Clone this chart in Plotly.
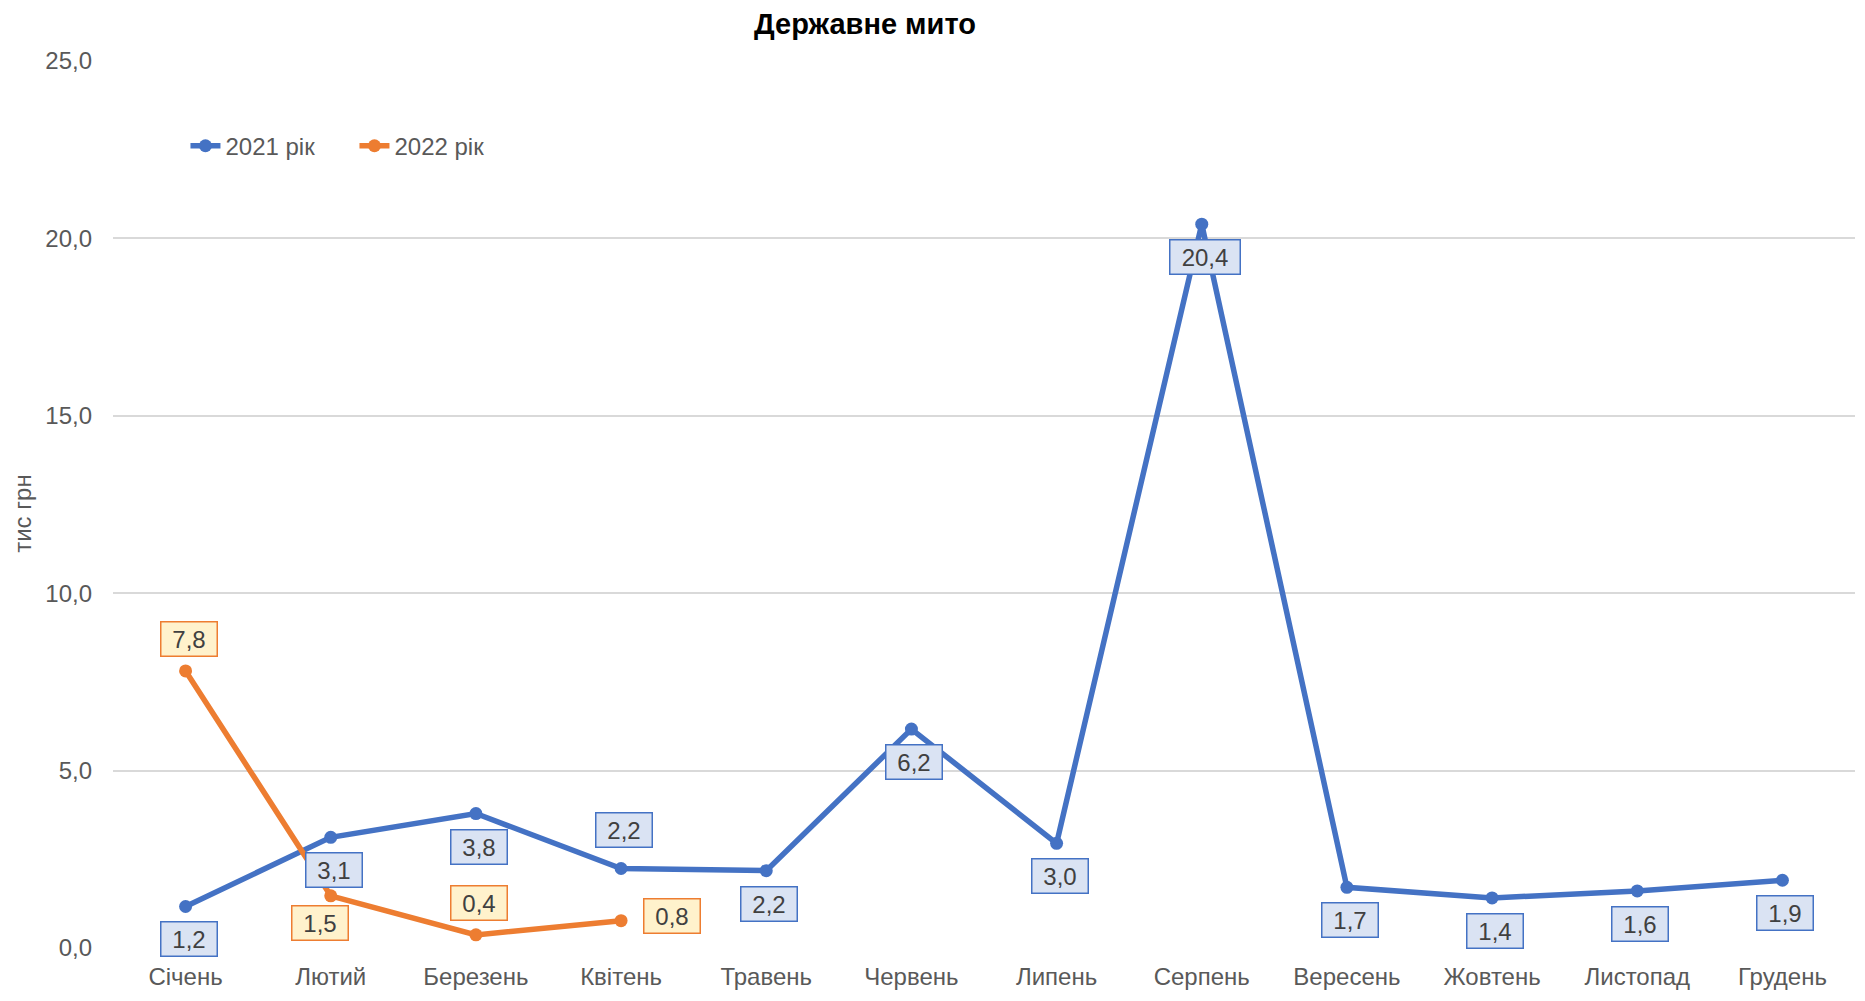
import plotly.graph_objects as go

months = ["Січень", "Лютий", "Березень", "Квітень", "Травень", "Червень",
          "Липень", "Серпень", "Вересень", "Жовтень", "Листопад", "Грудень"]
vals_2021 = [1.17, 3.12, 3.79, 2.24, 2.18, 6.17, 2.95, 20.4, 1.71, 1.41, 1.61, 1.91]
vals_2022 = [7.81, 1.47, 0.37, 0.77]
name_2021 = "2021 рік"
name_2022 = "2022 рік"
yticks = [0, 5, 10, 15, 20, 25]

# label offsets (style): (xshift, yshift) in pixels
off_2021 = [(3, -33)] * 12
off_2021[3] = (3, 39)
off_2022 = [(3, 32), (-11, -27), (3, 32), (51, 5)]

BLUE = "#4472C4"
ORANGE = "#ED7D31"
FONT = "Liberation Sans, Arial, sans-serif"
FS = 24

fig = go.Figure()
fig.add_trace(go.Scatter(x=months, y=vals_2021, name=name_2021, mode="lines+markers",
                         line=dict(color=BLUE, width=5.5), marker=dict(size=13, color=BLUE)))
fig.add_trace(go.Scatter(x=months[:len(vals_2022)], y=vals_2022, name=name_2022, mode="lines+markers",
                         line=dict(color=ORANGE, width=5.5), marker=dict(size=13, color=ORANGE)))

def fmt(v):
    return f"{v:.1f}".replace(".", ",")

def add_labels(vals, offs, bg, border):
    for m, v, (dx, dy) in zip(months, vals, offs):
        t = fmt(v)
        fig.add_annotation(x=m, y=v, text=t, showarrow=False, xshift=dx, yshift=dy,
                           bgcolor=bg, bordercolor=border, borderwidth=1.5, borderpad=2,
                           width=51 if len(t) <= 3 else 65, height=29,
                           font=dict(family=FONT, size=FS, color="#404040"))

add_labels(vals_2021, off_2021, "#DAE3F3", BLUE)
add_labels(vals_2022, off_2022, "#FFF2CC", ORANGE)

fig.add_annotation(text="тис грн", xref="paper", yref="paper", x=-0.052, y=0.49,
                   xanchor="center", yanchor="middle", textangle=-90, showarrow=False,
                   font=dict(family=FONT, size=FS, color="#595959"))

fig.update_layout(
    width=1849, height=985,
    margin=dict(l=105, r=2, t=53, b=45, autoexpand=False),
    paper_bgcolor="white", plot_bgcolor="white",
    font=dict(family=FONT, size=FS, color="#595959"),
    title=dict(text="<b>Державне мито</b>", x=0.4635, xanchor="center", y=0.984, yanchor="middle",
               font=dict(family=FONT, size=29, color="black")),
    legend=dict(orientation="h", x=0.0416, y=0.904, entrywidth=124,
                xanchor="left", yanchor="middle", font=dict(family=FONT, size=FS, color="#595959"),
                bgcolor="rgba(0,0,0,0)"),
    xaxis=dict(range=[-0.5, 11.5], showgrid=False, showline=False, ticks="",
               ticklabelstandoff=12, tickfont=dict(size=FS, color="#595959")),
    yaxis=dict(range=[0, 25], tickvals=yticks, ticktext=[fmt(t) for t in yticks],
               showgrid=True, gridcolor="#D9D9D9", gridwidth=1.5, zeroline=False,
               ticks="", ticklabelstandoff=20, tickfont=dict(size=FS, color="#595959")),
)

fig.write_html("out.html")
